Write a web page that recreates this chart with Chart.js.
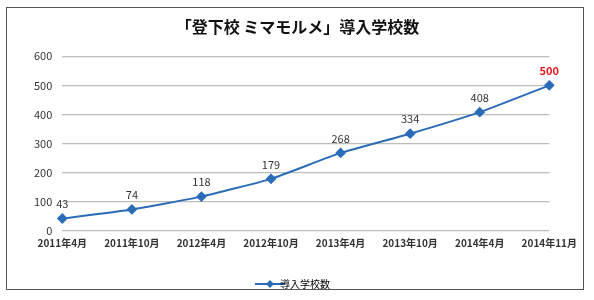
<!DOCTYPE html>
<html>
<head>
<meta charset="utf-8">
<script src="https://cdn.jsdelivr.net/npm/chart.js@4"></script>
<style>
  body { margin: 0; background: #fff; }
  #wrap { position: absolute; left: 6px; top: 7px; width: 578px; height: 283px; border: 1px solid #555; box-sizing: border-box; }
  canvas { display: block; }
</style>
</head>
<body>
<div id="wrap"><canvas id="myChart" width="576" height="281"></canvas></div>
<script>
var categories = ['2011年4月', '2011年10月', '2012年4月', '2012年10月', '2013年4月', '2013年10月', '2014年4月', '2014年11月'];
var schoolCounts = [43, 74, 118, 179, 268, 334, 408, 500];
var yTicks = [0, 100, 200, 300, 400, 500, 600];
var seriesLabel = '導入学校数';
var titleText = '「登下校 ミマモルメ」導入学校数';

var FONT = "'Noto Sans CJK JP', 'Noto Sans', sans-serif";
var BLUE = '#2b6cb8';

// legend marker: line with a diamond in the middle
var marker = document.createElement('canvas');
marker.width = 30; marker.height = 10;
var mctx = marker.getContext('2d');
mctx.strokeStyle = BLUE; mctx.lineWidth = 2;
mctx.beginPath(); mctx.moveTo(0, 5); mctx.lineTo(30, 5); mctx.stroke();
mctx.fillStyle = BLUE;
mctx.beginPath(); mctx.moveTo(15, 1); mctx.lineTo(19, 5); mctx.lineTo(15, 9); mctx.lineTo(11, 5); mctx.closePath(); mctx.fill();

var valueLabels = {
  id: 'valueLabels',
  afterDatasetsDraw: function (chart) {
    var ctx = chart.ctx;
    var meta = chart.getDatasetMeta(0);
    ctx.save();
    ctx.textAlign = 'center';
    ctx.textBaseline = 'bottom';
    meta.data.forEach(function (pt, i) {
      var last = i === meta.data.length - 1;
      ctx.font = (last ? 'bold ' : '') + '11px ' + FONT;
      ctx.fillStyle = last ? '#e8161b' : '#333';
      ctx.fillText(schoolCounts[i], pt.x, pt.y - 9);
    });
    ctx.restore();
  }
};

var ctx = document.getElementById('myChart');
var myChart = new Chart(ctx, {
  type: 'line',
  data: {
    labels: categories,
    datasets: [{
      label: seriesLabel,
      data: schoolCounts,
      borderColor: BLUE,
      backgroundColor: BLUE,
      borderWidth: 2,
      pointStyle: 'rectRot',
      pointRadius: 4,
      pointHoverRadius: 4,
      tension: 0.15
    }]
  },
  options: {
    responsive: false,
    animation: false,
    layout: { padding: { left: 17, right: 12, top: 0, bottom: -10 } },
    plugins: {
      title: {
        display: true,
        text: titleText,
        color: '#111',
        font: { family: FONT, size: 16, weight: 'bold' },
        padding: { top: 9, bottom: 20 }
      },
      legend: {
        position: 'bottom',
        labels: {
          color: '#333',
          font: { family: FONT, size: 10 },
          boxWidth: 30,
          boxHeight: 10,
          padding: 4,
          usePointStyle: true,
          generateLabels: function (chart) {
            return [{ text: seriesLabel, pointStyle: marker, fillStyle: BLUE, strokeStyle: BLUE, lineWidth: 0, datasetIndex: 0 }];
          }
        }
      },
      tooltip: { enabled: false }
    },
    scales: {
      x: {
        offset: false,
        grid: { display: false, drawTicks: false },
        border: { display: false },
        ticks: { color: '#333', font: { family: FONT, size: 10, weight: 'bold' }, maxRotation: 0, autoSkip: false, padding: 6 },
        afterFit: function (scale) { scale.height += 20; }
      },
      y: {
        min: 0,
        max: 600,
        afterBuildTicks: function (scale) { scale.ticks = yTicks.map(function (v) { return { value: v }; }); },
        grid: { color: '#bdbdbd', lineWidth: 1.2, drawTicks: false },
        border: { display: false },
        ticks: { color: '#333', font: { family: FONT, size: 11 }, padding: 10 }
      }
    }
  },
  plugins: [valueLabels]
});
</script>
</body>
</html>
